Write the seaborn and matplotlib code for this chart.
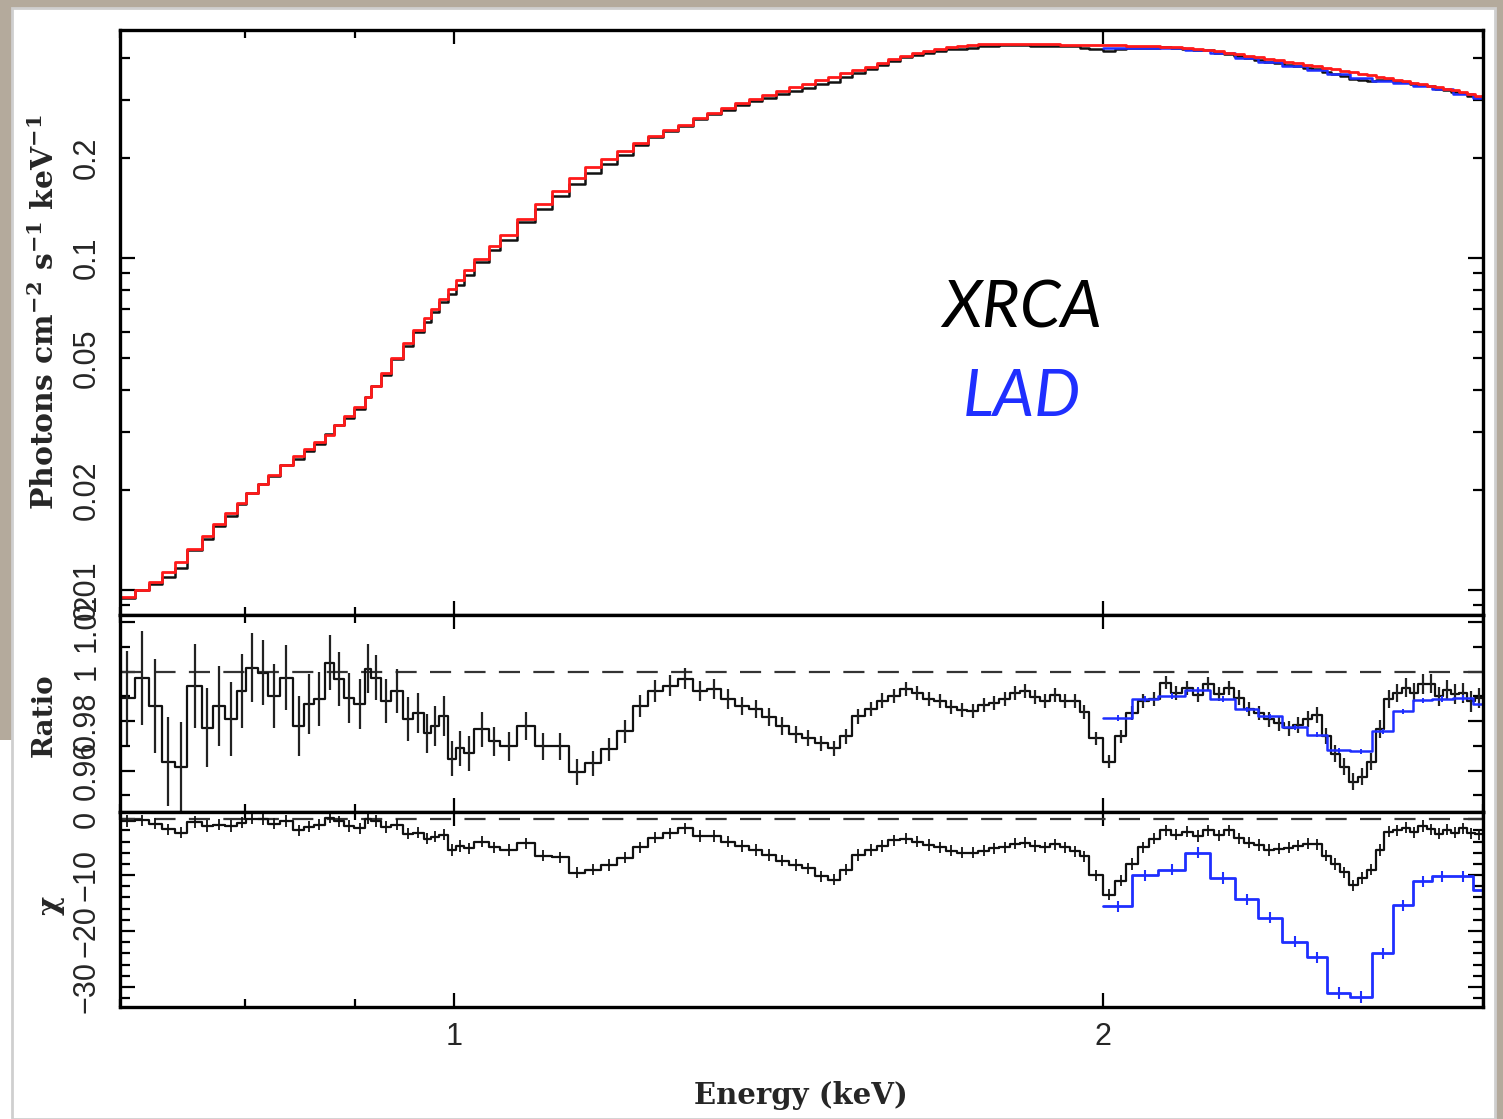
import numpy as np
import pandas as pd
import matplotlib
matplotlib.use("Agg")
import matplotlib.pyplot as plt
import seaborn as sns
from matplotlib.patches import Rectangle
from matplotlib.ticker import NullFormatter

# ---------------- spectral data ----------------
# XRCA channel edges (keV)
xrca_edges = [
    0.700, 0.711, 0.722, 0.732, 0.742, 0.752, 0.764, 0.773, 0.783, 0.793,
    0.801, 0.811, 0.820, 0.830, 0.842, 0.852, 0.861, 0.871, 0.880, 0.889,
    0.899, 0.909, 0.915, 0.925, 0.935, 0.947, 0.957, 0.968, 0.976, 0.984,
    0.994, 1.002, 1.011, 1.022, 1.038, 1.050,
    1.07, 1.09, 1.11, 1.13, 1.15, 1.17, 1.19, 1.21, 1.23, 1.25,
    1.27, 1.29, 1.31, 1.33, 1.35, 1.37, 1.39, 1.41, 1.43, 1.45,
    1.47, 1.49, 1.51, 1.53, 1.55, 1.57, 1.59, 1.61, 1.63, 1.65,
    1.67, 1.69, 1.71, 1.73, 1.75, 1.77, 1.79, 1.81, 1.83, 1.85,
    1.87, 1.89, 1.91, 1.93, 1.95, 1.97, 2.000,
    2.025, 2.050, 2.075, 2.100, 2.125, 2.150, 2.175, 2.200, 2.225, 2.250,
    2.275, 2.300, 2.325, 2.350, 2.375, 2.400, 2.425, 2.450, 2.475, 2.500,
    2.525, 2.550, 2.575, 2.600, 2.625, 2.650, 2.675, 2.700, 2.725, 2.750,
    2.775, 2.800, 2.825, 2.850, 2.875, 2.900, 2.925, 2.950, 2.975, 3.000,
]

# folded model (photons cm^-2 s^-1 keV^-1)
xrca_model = [
    0.00953, 0.0100, 0.01057, 0.01133, 0.01214, 0.01329, 0.01455, 0.01580, 0.01705, 0.01828,
    0.01960, 0.02086, 0.02220, 0.02379, 0.02532, 0.02659, 0.02791, 0.02930, 0.03141, 0.03343,
    0.03557, 0.03813, 0.04116, 0.04504, 0.04995, 0.05546, 0.06069, 0.06598, 0.07023, 0.07524,
    0.08065, 0.08585, 0.09201, 0.09931, 0.1087,
    0.1173, 0.1311, 0.1454, 0.1591, 0.1742, 0.1879, 0.1987, 0.2100, 0.2220, 0.2331,
    0.2429, 0.2515, 0.2641, 0.2734, 0.2830, 0.2931, 0.3013, 0.3097, 0.3184, 0.3274,
    0.3343, 0.3437, 0.3509, 0.3608, 0.3684, 0.3761, 0.3867, 0.3975, 0.4059, 0.4144,
    0.4202, 0.4261, 0.4320, 0.4350, 0.4380, 0.4411, 0.4411, 0.4426, 0.4426, 0.4426,
    0.4411, 0.4411, 0.4411, 0.4396, 0.4396, 0.4380, 0.4380,
    0.4380, 0.4380, 0.4365, 0.4350, 0.4350, 0.4335, 0.4320, 0.4305, 0.4276, 0.4246,
    0.4202, 0.4159, 0.4116, 0.4073, 0.4031, 0.3989, 0.3948, 0.3907, 0.3867, 0.3826,
    0.3787, 0.3748, 0.3709, 0.3671, 0.3633, 0.3595, 0.3558, 0.3522, 0.3485, 0.3449,
    0.3413, 0.3378, 0.3343, 0.3308, 0.3274, 0.3240, 0.3206, 0.3162, 0.3119, 0.3076,
]

# data / model ratio
xrca_ratio = [
    0.9894, 0.9976, 0.9861, 0.9637, 0.9616, 0.9943, 0.9773, 0.9861, 0.9808, 0.9922,
    1.0016, 0.9996, 0.9902, 0.9976, 0.9780, 0.9869, 0.9889, 1.0037, 0.9971, 0.9894,
    0.9869, 1.0012, 0.9976, 0.9882, 0.9922, 0.9808, 0.9833, 0.9751, 0.9780, 0.9820,
    0.9649, 0.9690, 0.9670, 0.9767, 0.9718,
    0.9698, 0.9780, 0.9698, 0.9698, 0.9596, 0.9629, 0.9686, 0.9759, 0.9861, 0.9922,
    0.9943, 0.9971, 0.9922, 0.9931, 0.9890, 0.9861, 0.9849, 0.9816, 0.9780, 0.9747,
    0.9731, 0.9710, 0.9690, 0.9739, 0.9820, 0.9849, 0.9882, 0.9902, 0.9931, 0.9914,
    0.9890, 0.9882, 0.9857, 0.9845, 0.9841, 0.9865, 0.9873, 0.9890, 0.9914, 0.9922,
    0.9898, 0.9882, 0.9906, 0.9882, 0.9882, 0.9837, 0.9731,
    0.9637, 0.9739, 0.9833, 0.9882, 0.9890, 0.9955, 0.9915, 0.9935, 0.9905, 0.9950,
    0.9910, 0.9935, 0.9895, 0.9849, 0.9833, 0.9808, 0.9792, 0.9771, 0.9784, 0.9808,
    0.9824, 0.9739, 0.9669, 0.9616, 0.9555, 0.9576, 0.9637, 0.9767, 0.9890, 0.9914,
    0.9935, 0.9915, 0.9950, 0.9951, 0.9900, 0.9925, 0.9910, 0.9915, 0.9880, 0.9894,
]

xrca_ratio_err = [
    0.019, 0.019, 0.019, 0.018, 0.018, 0.017, 0.016, 0.016, 0.015, 0.015,
    0.014, 0.013, 0.013, 0.013, 0.012, 0.012, 0.011, 0.011, 0.011, 0.010,
    0.010, 0.010, 0.009, 0.009, 0.009, 0.009, 0.008, 0.008, 0.008, 0.008,
    0.007, 0.007, 0.007, 0.007, 0.006,
    0.0060, 0.0058, 0.0056, 0.0054, 0.0052, 0.0050, 0.0048, 0.0046, 0.0045, 0.0044,
    0.0043, 0.0042, 0.0041, 0.0040, 0.0039, 0.0038, 0.0037, 0.0036, 0.0035, 0.0034,
    0.0033, 0.0032, 0.0031, 0.0031, 0.0030, 0.0030, 0.0030, 0.0029, 0.0029, 0.0029,
    0.0028, 0.0028, 0.0028, 0.0028, 0.0028, 0.0027, 0.0027, 0.0027, 0.0027, 0.0027,
    0.0027, 0.0027, 0.0027, 0.0027, 0.0027, 0.0027, 0.0027,
    0.0027, 0.0027, 0.0027, 0.0027, 0.0027, 0.0027, 0.0028, 0.0028, 0.0028, 0.0028,
    0.0028, 0.0029, 0.0029, 0.0029, 0.0030, 0.0030, 0.0030, 0.0031, 0.0031, 0.0032,
    0.0032, 0.0033, 0.0033, 0.0034, 0.0035, 0.0035, 0.0036, 0.0036, 0.0037, 0.0037,
    0.0038, 0.0038, 0.0039, 0.0039, 0.0040, 0.0040, 0.0041, 0.0041, 0.0042, 0.0042,
]

# residuals in units of sigma
xrca_chi = [
    -0.3, -0.2, -0.8, -1.8, -2.4, -0.5, -1.2, -1.0, -1.2, -0.6,
    0.1, 0.0, -0.8, -0.3, -2.0, -1.3, -1.0, 0.3, -0.4, -1.2,
    -1.6, 0.1, -0.3, -1.4, -1.0, -2.6, -2.4, -3.5, -3.1, -2.8,
    -5.5, -4.8, -5.2, -4.0, -5.0,
    -5.5, -4.3, -6.5, -6.8, -9.6, -9.0, -8.2, -6.9, -5.0, -3.3,
    -2.5, -1.6, -3.0, -3.0, -4.0, -4.8, -5.5, -6.4, -7.4, -8.2,
    -8.8, -10.2, -10.8, -9.0, -6.4, -5.5, -4.8, -3.8, -3.5, -4.0,
    -4.6, -5.0, -5.6, -6.0, -6.0, -5.6, -5.2, -5.0, -4.4, -4.2,
    -4.8, -5.0, -4.5, -5.0, -5.7, -6.6, -10.0,
    -13.5, -11.0, -8.0, -5.0, -3.5, -2.0, -2.8, -2.2, -3.0, -2.0,
    -2.9, -2.0, -3.4, -4.2, -4.6, -5.5, -5.3, -5.1, -4.7, -4.4,
    -4.5, -6.5, -8.0, -9.5, -11.8, -10.5, -9.0, -5.5, -2.2, -2.0,
    -1.5, -2.3, -1.2, -1.8, -2.6, -1.9, -2.4, -1.6, -2.5, -2.7,
]

# LAD channel edges (keV) and values
lad_edges = [2.000, 2.063, 2.121, 2.183, 2.242, 2.302, 2.360, 2.421, 2.487,
             2.540, 2.603, 2.665, 2.725, 2.784, 2.841, 2.905, 2.968, 3.030]
lad_flux = [0.4298, 0.4302, 0.4286, 0.4244, 0.4143, 0.4023, 0.3913, 0.3795, 0.3691,
            0.3578, 0.3486, 0.3427, 0.3370, 0.3305, 0.3224, 0.3131, 0.3044]
lad_ratio = [0.9813, 0.9889, 0.9902, 0.9925, 0.9889, 0.9848, 0.9820, 0.9776, 0.9746,
             0.9682, 0.9678, 0.9759, 0.9841, 0.9884, 0.9889, 0.9893, 0.9868]
lad_ratio_err = [0.0012, 0.0011, 0.0011, 0.0012, 0.0011, 0.0011, 0.0010, 0.0010, 0.0010,
                 0.0010, 0.0010, 0.0010, 0.0010, 0.0010, 0.0011, 0.0011, 0.0010]
lad_chi = [-15.6, -10.0, -9.0, -6.0, -10.5, -14.3, -17.6, -21.9, -24.7,
           -31.1, -31.8, -24.0, -15.4, -11.1, -10.2, -10.2, -12.7]

# ---------------- axis ticks / labels ----------------
energy_major = [1, 2]
energy_major_labels = ["1", "2"]
energy_minor = [0.7, 0.8, 0.9, 3.0]

flux_major = [0.01, 0.1]
flux_major_labels = ["0.01", "0.1"]
flux_minor = [0.009, 0.02, 0.03, 0.04, 0.05, 0.06, 0.07, 0.08, 0.09, 0.2, 0.3, 0.4]
flux_minor_labels = ["", "0.02", "", "", "0.05", "", "", "", "", "0.2", "", ""]

ratio_major = [0.96, 0.98, 1.0, 1.02]
ratio_major_labels = ["0.96", "0.98", "1", "1.02"]
ratio_minor = [0.95, 0.97, 0.99, 1.01]

chi_major = [-30, -20, -10, 0]
chi_major_labels = ["\u221230", "\u221220", "\u221210", "0"]
chi_minor = [-32, -28, -26, -24, -22, -18, -16, -14, -12, -8, -6, -4, -2]

# ---------------- style ----------------
sns.set_style("ticks")
plt.rcParams["font.family"] = ["Liberation Sans", "DejaVu Sans"]
plt.rcParams["mathtext.fontset"] = "dejavuserif"

W, H = 1503, 1119
fig = plt.figure(figsize=(W / 100, H / 100), dpi=100)
fig.patch.set_facecolor("#b4aa9c")

# white window area
fig.add_artist(Rectangle((12 / W, 0), (1495 - 12) / W, (H - 8) / H,
                         transform=fig.transFigure, facecolor="white",
                         edgecolor="#cfcfcf", lw=2, zorder=-5))
fig.add_artist(Rectangle((0, 0), 12 / W, (H - 740) / H, transform=fig.transFigure,
                         facecolor="white", edgecolor="none", zorder=-6))

L = 120 / W
Wd = (1483 - 120) / W


def frac(top_px, bot_px):
    return [L, 1 - bot_px / H, Wd, (bot_px - top_px) / H]


ax1 = fig.add_axes(frac(30, 615))
ax2 = fig.add_axes(frac(615, 812))
ax3 = fig.add_axes(frac(812, 1007))

edges = np.array(xrca_edges)
centers = np.sqrt(edges[:-1] * edges[1:])
ledges = np.array(lad_edges)
lcenters = np.sqrt(ledges[:-1] * ledges[1:])

model = np.array(xrca_model)
ratio = np.array(xrca_ratio)
data_flux = model * ratio

BLACK = "#111111"
RED = "#ff1a1a"
BLUE = "#1f2fff"


def steps(ax, edg, vals, **kw):
    vals = list(vals)
    df = pd.DataFrame({"E": list(edg), "v": vals + [vals[-1]]})
    sns.lineplot(data=df, x="E", y="v", ax=ax, drawstyle="steps-post",
                 estimator=None, sort=False, **kw)


for ax in (ax1, ax2, ax3):
    ax.set_xscale("log")

# top: unfolded spectrum
ax1.set_yscale("log")
steps(ax1, edges, data_flux, color=BLACK, lw=1.8)
steps(ax1, ledges, lad_flux, color=BLUE, lw=1.8)
steps(ax1, edges, model, color=RED, lw=2.0)

# middle: ratio
ax2.axhline(1.0, color="#333333", lw=1.6, ls=(0, (9.5, 6)), zorder=1)
steps(ax2, edges, ratio, color=BLACK, lw=1.6)
ax2.errorbar(centers, ratio, yerr=xrca_ratio_err, fmt="none",
             ecolor="#222222", elinewidth=1.6, capsize=0)
steps(ax2, ledges, lad_ratio, color=BLUE, lw=1.8)
ax2.errorbar(lcenters, lad_ratio, yerr=lad_ratio_err, fmt="none",
             ecolor=BLUE, elinewidth=1.4, capsize=0)

# bottom: chi residuals
ax3.axhline(0.0, color="#333333", lw=1.6, ls=(0, (9.5, 6)), zorder=1)
steps(ax3, edges, xrca_chi, color=BLACK, lw=1.6)
ax3.errorbar(centers, xrca_chi, yerr=1.0, fmt="none",
             ecolor=BLACK, elinewidth=1.3, capsize=0)
steps(ax3, ledges, lad_chi, color=BLUE, lw=2.0)
ax3.errorbar(lcenters, lad_chi, yerr=1.0, fmt="none",
             ecolor=BLUE, elinewidth=1.5, capsize=0)

# ---------------- axes cosmetics ----------------
for ax in (ax1, ax2, ax3):
    ax.set_xlim(0.701, 3.0)
    ax.set_xticks(energy_major, labels=energy_major_labels)
    ax.set_xticks(energy_minor, minor=True)
    ax.xaxis.set_minor_formatter(NullFormatter())
    ax.set_xlabel("")
    ax.set_ylabel("")
    ax.set_facecolor("white")
    for s in ax.spines.values():
        s.set_linewidth(2.4)
        s.set_color("black")
    ax.tick_params(which="both", direction="in", top=True, right=True,
                   color="black", width=1.6, labelsize=22)
    ax.tick_params(axis="x", which="major", length=10, pad=11)
    ax.tick_params(axis="x", which="minor", length=6)
    ax.tick_params(axis="y", which="major", length=11, pad=13, labelrotation=90)
    ax.tick_params(axis="y", which="minor", length=7, pad=13, labelrotation=90)
    if ax is not ax3:
        ax.tick_params(axis="x", which="both", labelbottom=False)

ax1.set_ylim(0.0084, 0.487)
ax1.set_yticks(flux_major, labels=flux_major_labels)
ax1.set_yticks(flux_minor, labels=flux_minor_labels, minor=True)

ax2.set_ylim(0.9433, 1.0229)
ax2.set_yticks(ratio_major, labels=ratio_major_labels)
ax2.set_yticks(ratio_minor, minor=True)
ax2.yaxis.set_minor_formatter(NullFormatter())

ax3.set_ylim(-33.6, 1.3)
ax3.set_yticks(chi_major, labels=chi_major_labels)
ax3.set_yticks(chi_minor, minor=True)
ax3.yaxis.set_minor_formatter(NullFormatter())

for ax in (ax1, ax2, ax3):
    for lab in ax.get_yticklabels(which="both"):
        lab.set_va("center")

# axis titles
lab_kw = dict(family="DejaVu Serif", fontweight="bold",
              ha="center", va="center")
fig.text(45 / W, 1 - 312 / H,
         r"Photons cm$^{\mathbf{-2}}$ s$^{\mathbf{-1}}$ keV$^{\mathbf{-1}}$",
         rotation=90, fontsize=21.5, **lab_kw)
fig.text(44 / W, 1 - 715 / H, "Ratio", rotation=90, fontsize=20, **lab_kw)
fig.text(50 / W, 1 - 905 / H, "\u03c7", rotation=90, fontsize=21, **lab_kw)
fig.text(801 / W, 1 - 1096 / H, "Energy (keV)", fontsize=21, **lab_kw)

# instrument labels
fig.text(1022 / W, 1 - 328 / H, "XRCA", family="Lato", style="italic",
         fontsize=47, color="black", ha="center", va="baseline")
fig.text(1022 / W, 1 - 416 / H, "LAD", family="Lato", style="italic",
         fontsize=47, color=BLUE, ha="center", va="baseline")

fig.savefig("out.png", dpi=100, facecolor=fig.get_facecolor())
